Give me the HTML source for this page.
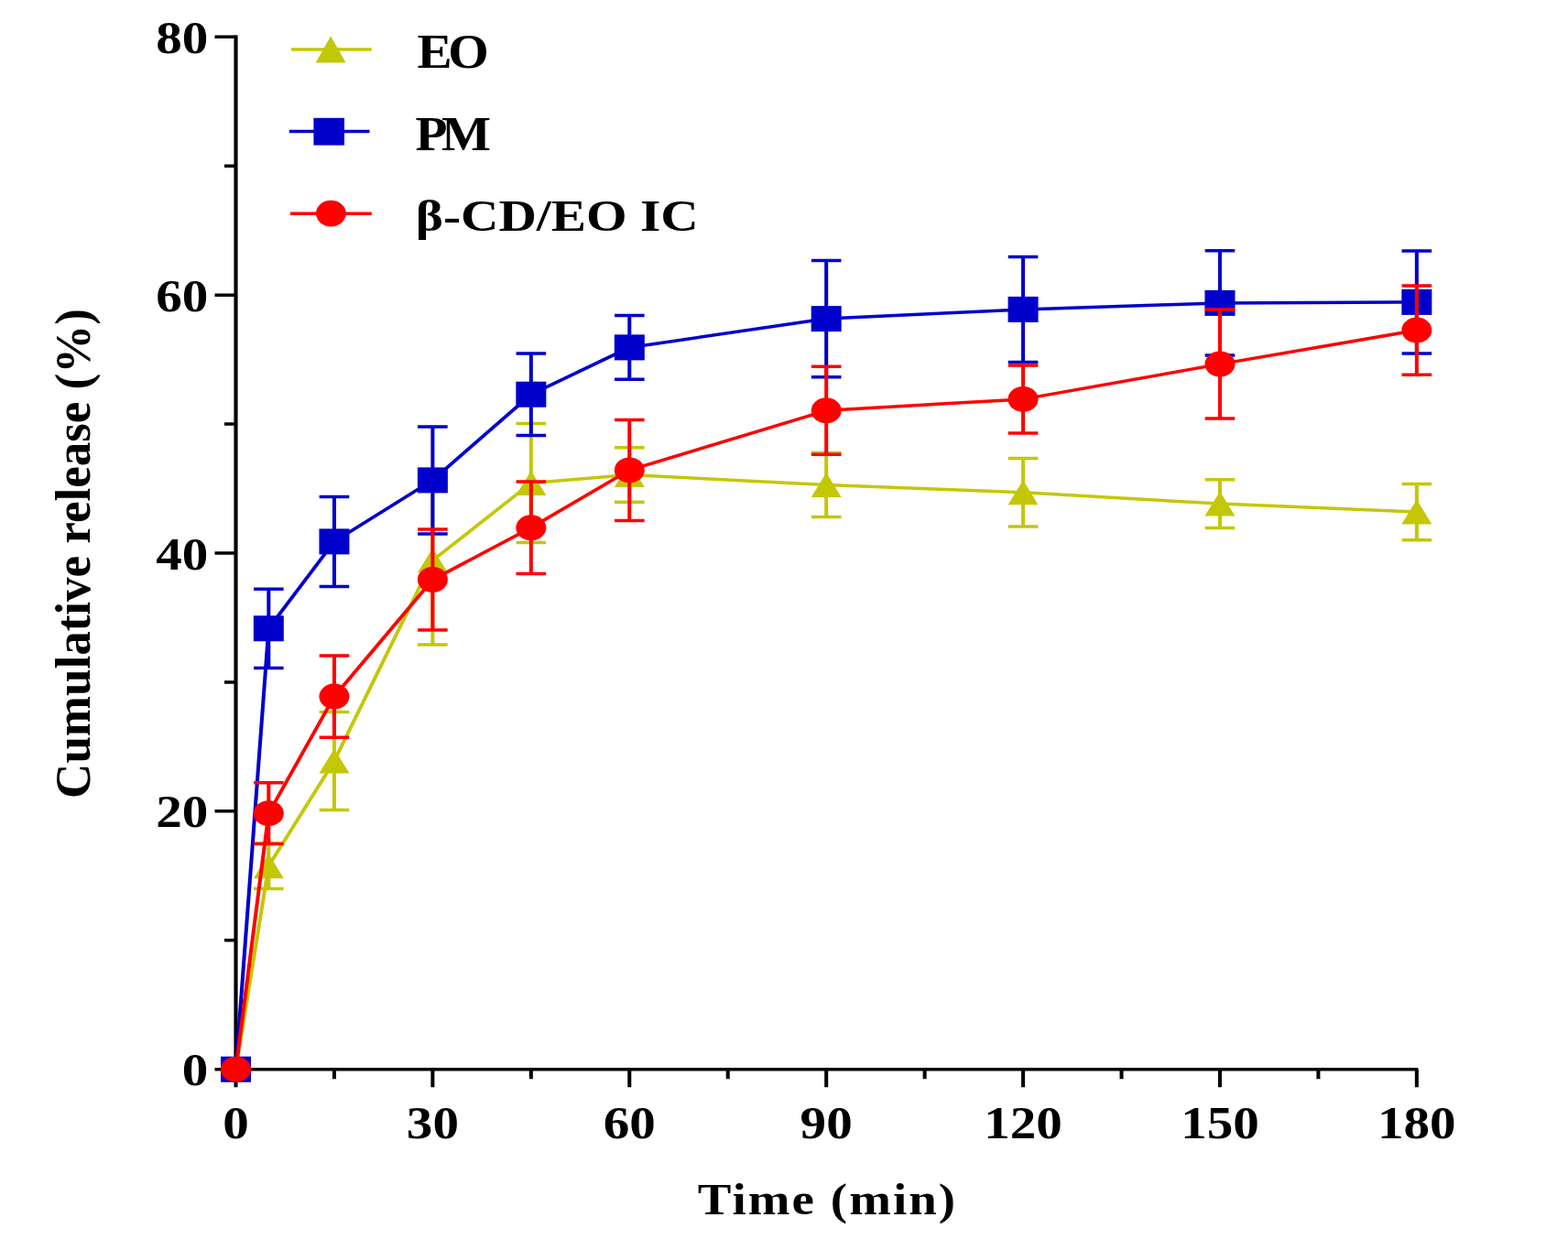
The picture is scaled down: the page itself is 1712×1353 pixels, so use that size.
<!DOCTYPE html>
<html><head><meta charset="utf-8"><title>Cumulative release</title>
<style>
html,body{margin:0;padding:0;background:#fff;}
body{width:1712px;height:1353px;overflow:hidden;}
svg{display:block;filter:blur(0.4px);}
text{font-family:"Liberation Serif","Times New Roman",serif;font-weight:bold;fill:#000;}
</style></head>
<body>
<svg width="1712" height="1353" viewBox="0 0 1712 1353">
<rect width="1712" height="1353" fill="#fff"/>
<g transform="scale(1.15,1)">
<path d="M223.91 38.55V1169.45M222.17 1167.7H1346.35" stroke="#000" stroke-width="3.6" fill="none"/>
<path d="M203.91 1167.7H223.91M203.91 885.85H223.91M203.91 604.0H223.91M203.91 322.15H223.91M203.91 40.3H223.91M213.04 1026.78H223.91M213.04 744.93H223.91M213.04 463.08H223.91M213.04 181.23H223.91M223.91 1167.7V1187.3M410.77 1167.7V1187.3M597.63 1167.7V1187.3M784.5 1167.7V1187.3M971.36 1167.7V1187.3M1158.22 1167.7V1187.3M1345.08 1167.7V1187.3M317.34 1167.7V1178.3M504.2 1167.7V1178.3M691.07 1167.7V1178.3M877.93 1167.7V1178.3M1064.79 1167.7V1178.3M1251.65 1167.7V1178.3" stroke="#000" stroke-width="3.5" fill="none"/>
<path d="M255.06 920.9V970.5M240.88 920.9H269.23M240.88 970.5H269.23" stroke="#C4C706" stroke-width="3.5" fill="none"/>
<path d="M317.34 777.5V884.5M303.17 777.5H331.52M303.17 884.5H331.52" stroke="#C4C706" stroke-width="3.5" fill="none"/>
<path d="M410.77 520V704M396.6 520H424.95M396.6 704H424.95" stroke="#C4C706" stroke-width="3.5" fill="none"/>
<path d="M504.2 462.5V592.5M490.03 462.5H518.38M490.03 592.5H518.38" stroke="#C4C706" stroke-width="3.5" fill="none"/>
<path d="M597.63 488.7V548.3M583.46 488.7H611.81M583.46 548.3H611.81" stroke="#C4C706" stroke-width="3.5" fill="none"/>
<path d="M784.5 494.5V564.5M770.32 494.5H798.67M770.32 564.5H798.67" stroke="#C4C706" stroke-width="3.5" fill="none"/>
<path d="M971.36 500.5V574.9M957.18 500.5H985.53M957.18 574.9H985.53" stroke="#C4C706" stroke-width="3.5" fill="none"/>
<path d="M1158.22 523.7V576.5M1144.04 523.7H1172.39M1144.04 576.5H1172.39" stroke="#C4C706" stroke-width="3.5" fill="none"/>
<path d="M1345.08 528.5V589.7M1330.9 528.5H1359.25M1330.9 589.7H1359.25" stroke="#C4C706" stroke-width="3.5" fill="none"/>
<polyline points="223.91,1167.7 255.06,945.7 317.34,831 410.77,612 504.2,527.5 597.63,518.5 784.5,529.5 971.36,537.7 1158.22,550.1 1345.08,559.1" stroke="#C4C706" stroke-width="3.5" fill="none" stroke-linejoin="round"/>
<polygon points="223.91,1154.2 238.26,1181.2 209.57,1181.2" fill="#C4C706"/>
<polygon points="255.06,932.2 269.4,959.2 240.71,959.2" fill="#C4C706"/>
<polygon points="317.34,817.5 331.69,844.5 303.0,844.5" fill="#C4C706"/>
<polygon points="410.77,598.5 425.12,625.5 396.43,625.5" fill="#C4C706"/>
<polygon points="504.2,514.0 518.55,541.0 489.86,541.0" fill="#C4C706"/>
<polygon points="597.63,505.0 611.98,532.0 583.29,532.0" fill="#C4C706"/>
<polygon points="784.5,516.0 798.84,543.0 770.15,543.0" fill="#C4C706"/>
<polygon points="971.36,524.2 985.7,551.2 957.01,551.2" fill="#C4C706"/>
<polygon points="1158.22,536.6 1172.57,563.6 1143.87,563.6" fill="#C4C706"/>
<polygon points="1345.08,545.6 1359.43,572.6 1330.73,572.6" fill="#C4C706"/>
<path d="M255.06 643.2V729.4M240.88 643.2H269.23M240.88 729.4H269.23" stroke="#0000CC" stroke-width="3.5" fill="none"/>
<path d="M317.34 542.4V640.4M303.17 542.4H331.52M303.17 640.4H331.52" stroke="#0000CC" stroke-width="3.5" fill="none"/>
<path d="M410.77 465.9V582.9M396.6 465.9H424.95M396.6 582.9H424.95" stroke="#0000CC" stroke-width="3.5" fill="none"/>
<path d="M504.2 386.0V475.4M490.03 386.0H518.38M490.03 475.4H518.38" stroke="#0000CC" stroke-width="3.5" fill="none"/>
<path d="M597.63 344.5V414.3M583.46 344.5H611.81M583.46 414.3H611.81" stroke="#0000CC" stroke-width="3.5" fill="none"/>
<path d="M784.5 284.4V411.8M770.32 284.4H798.67M770.32 411.8H798.67" stroke="#0000CC" stroke-width="3.5" fill="none"/>
<path d="M971.36 280.4V395.4M957.18 280.4H985.53M957.18 395.4H985.53" stroke="#0000CC" stroke-width="3.5" fill="none"/>
<path d="M1158.22 273.8V388.0M1144.04 273.8H1172.39M1144.04 388.0H1172.39" stroke="#0000CC" stroke-width="3.5" fill="none"/>
<path d="M1345.08 273.9V385.9M1330.9 273.9H1359.25M1330.9 385.9H1359.25" stroke="#0000CC" stroke-width="3.5" fill="none"/>
<polyline points="223.91,1167.7 255.06,686.3 317.34,591.4 410.77,524.4 504.2,430.7 597.63,379.4 784.5,348.1 971.36,337.9 1158.22,330.9 1345.08,329.9" stroke="#0000CC" stroke-width="3.5" fill="none" stroke-linejoin="round"/>
<rect x="209.57" y="1153.7" width="28.7" height="28" fill="#0000CC"/>
<rect x="240.71" y="672.3" width="28.7" height="28" fill="#0000CC"/>
<rect x="303.0" y="577.4" width="28.7" height="28" fill="#0000CC"/>
<rect x="396.43" y="510.4" width="28.7" height="28" fill="#0000CC"/>
<rect x="489.86" y="416.7" width="28.7" height="28" fill="#0000CC"/>
<rect x="583.29" y="365.4" width="28.7" height="28" fill="#0000CC"/>
<rect x="770.15" y="334.1" width="28.7" height="28" fill="#0000CC"/>
<rect x="957.01" y="323.9" width="28.7" height="28" fill="#0000CC"/>
<rect x="1143.87" y="316.9" width="28.7" height="28" fill="#0000CC"/>
<rect x="1330.73" y="315.9" width="28.7" height="28" fill="#0000CC"/>
<path d="M255.06 854.8V921.6M240.88 854.8H269.23M240.88 921.6H269.23" stroke="#FF0000" stroke-width="3.5" fill="none"/>
<path d="M317.34 715.9V805.3M303.17 715.9H331.52M303.17 805.3H331.52" stroke="#FF0000" stroke-width="3.5" fill="none"/>
<path d="M410.77 577.9V688.1M396.6 577.9H424.95M396.6 688.1H424.95" stroke="#FF0000" stroke-width="3.5" fill="none"/>
<path d="M504.2 526.1V626.5M490.03 526.1H518.38M490.03 626.5H518.38" stroke="#FF0000" stroke-width="3.5" fill="none"/>
<path d="M597.63 458.4V568.4M583.46 458.4H611.81M583.46 568.4H611.81" stroke="#FF0000" stroke-width="3.5" fill="none"/>
<path d="M784.5 400.3V496.3M770.32 400.3H798.67M770.32 496.3H798.67" stroke="#FF0000" stroke-width="3.5" fill="none"/>
<path d="M971.36 398.9V472.9M957.18 398.9H985.53M957.18 472.9H985.53" stroke="#FF0000" stroke-width="3.5" fill="none"/>
<path d="M1158.22 338.1V457.1M1144.04 338.1H1172.39M1144.04 457.1H1172.39" stroke="#FF0000" stroke-width="3.5" fill="none"/>
<path d="M1345.08 312.0V409.2M1330.9 312.0H1359.25M1330.9 409.2H1359.25" stroke="#FF0000" stroke-width="3.5" fill="none"/>
<polyline points="223.91,1167.7 255.06,888.2 317.34,760.6 410.77,633 504.2,576.3 597.63,513.4 784.5,448.3 971.36,435.9 1158.22,397.6 1345.08,360.6" stroke="#FF0000" stroke-width="3.5" fill="none" stroke-linejoin="round"/>
<ellipse cx="223.91" cy="1167.7" rx="14.35" ry="14.0" fill="#FF0000"/>
<ellipse cx="255.06" cy="888.2" rx="14.35" ry="14.0" fill="#FF0000"/>
<ellipse cx="317.34" cy="760.6" rx="14.35" ry="14.0" fill="#FF0000"/>
<ellipse cx="410.77" cy="633" rx="14.35" ry="14.0" fill="#FF0000"/>
<ellipse cx="504.2" cy="576.3" rx="14.35" ry="14.0" fill="#FF0000"/>
<ellipse cx="597.63" cy="513.4" rx="14.35" ry="14.0" fill="#FF0000"/>
<ellipse cx="784.5" cy="448.3" rx="14.35" ry="14.0" fill="#FF0000"/>
<ellipse cx="971.36" cy="435.9" rx="14.35" ry="14.0" fill="#FF0000"/>
<ellipse cx="1158.22" cy="397.6" rx="14.35" ry="14.0" fill="#FF0000"/>
<ellipse cx="1345.08" cy="360.6" rx="14.35" ry="14.0" fill="#FF0000"/>
<path d="M276.52 54H352.87" stroke="#C4C706" stroke-width="3.5"/>
<polygon points="314.0,39.6 328.35,68.6 299.65,68.6" fill="#C4C706"/>
<path d="M274.61 143.5H350.87" stroke="#0000CC" stroke-width="3.5"/>
<rect x="297.74" y="128.8" width="29.22" height="29.8" fill="#0000CC"/>
<path d="M275.65 233.3H352.87" stroke="#FF0000" stroke-width="3.5"/>
<ellipse cx="314.26" cy="233.1" rx="14.26" ry="14.3" fill="#FF0000"/>
</g>
<text transform="translate(227.3,1185.3) scale(1.12,1)" font-size="51" text-anchor="end">0</text>
<text transform="translate(227.3,903.45) scale(1.12,1)" font-size="51" text-anchor="end">20</text>
<text transform="translate(227.3,621.6) scale(1.12,1)" font-size="51" text-anchor="end">40</text>
<text transform="translate(227.3,339.75) scale(1.12,1)" font-size="51" text-anchor="end">60</text>
<text transform="translate(227.3,57.9) scale(1.12,1)" font-size="51" text-anchor="end">80</text>
<text transform="translate(257.5,1243.2) scale(1.12,1)" font-size="51" text-anchor="middle">0</text>
<text transform="translate(472.39,1243.2) scale(1.12,1)" font-size="51" text-anchor="middle">30</text>
<text transform="translate(687.28,1243.2) scale(1.12,1)" font-size="51" text-anchor="middle">60</text>
<text transform="translate(902.17,1243.2) scale(1.12,1)" font-size="51" text-anchor="middle">90</text>
<text transform="translate(1117.06,1243.2) scale(1.12,1)" font-size="51" text-anchor="middle">120</text>
<text transform="translate(1331.95,1243.2) scale(1.12,1)" font-size="51" text-anchor="middle">150</text>
<text transform="translate(1546.84,1243.2) scale(1.12,1)" font-size="51" text-anchor="middle">180</text>
<text transform="translate(903.5,1326) scale(1.12,1)" font-size="49" text-anchor="middle" letter-spacing="1.85">Time (min)</text>
<text transform="translate(97.8,604.5) rotate(-90) scale(1,1.03)" font-size="53" text-anchor="middle">Cumulative release (%)</text>
<text transform="translate(455.5,73.6) scale(1.1,1)" font-size="52" letter-spacing="-4.1">EO</text>
<text transform="translate(453.5,164) scale(1.1,1)" font-size="52" letter-spacing="-5.9">PM</text>
<text transform="translate(453.8,252.4) scale(1.17,1)" font-size="49">β-CD/EO IC</text>
</svg>
</body></html>
